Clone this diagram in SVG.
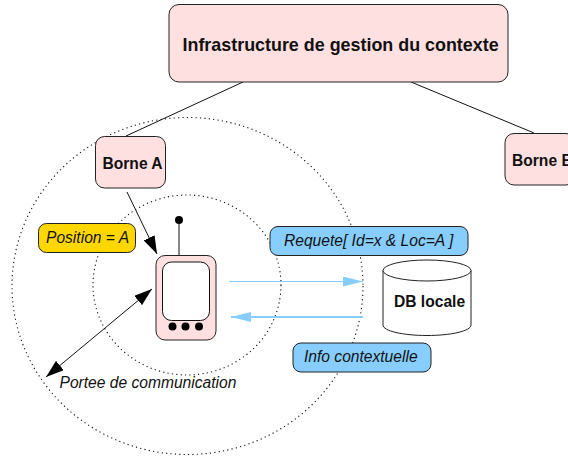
<svg xmlns="http://www.w3.org/2000/svg" width="568" height="456" viewBox="0 0 568 456">
<style>
.pink{fill:#ffe0e0;stroke:#222;stroke-width:1}
.blue{fill:#87ceff;stroke:#222;stroke-width:1}
.yellow{fill:#ffd700;stroke:#222;stroke-width:1}
.range{fill:none;stroke:#111;stroke-width:1.1;stroke-dasharray:1.2 3.2}
.line{fill:none;stroke:#111;stroke-width:1}
text{font-family:"Liberation Sans",Arial,sans-serif;font-size:15.6px;fill:#111}
.b{font-weight:bold}
.i{font-style:italic}
.big{font-size:17.9px}
</style>
<defs>
<marker id="ak" markerUnits="userSpaceOnUse" markerWidth="18" markerHeight="12" refX="18" refY="6" orient="auto-start-reverse" viewBox="0 0 18 12"><path d="M0 0L18 6L0 12Z" fill="#000"/></marker>
<marker id="ab" markerUnits="userSpaceOnUse" markerWidth="20" markerHeight="10" refX="20" refY="5" orient="auto" viewBox="0 0 20 10"><path d="M0 0L20 5L0 10Z" fill="#87ceff"/></marker>
</defs>
<g id="ranges">
<ellipse class="range" cx="187.500" cy="286" rx="175.500" ry="168.500"/>
<ellipse class="range" cx="187" cy="285" rx="94" ry="90"/>
</g>
<g id="connectors">
<path class="line" d="M243 82L126 136"/>
<path class="line" d="M411 82L534 133"/>
<path class="line" d="M127 192L157 254" marker-end="url(#ak)"/>
<path class="line" d="M152 289L46 377" marker-start="url(#ak)" marker-end="url(#ak)"/>
<path d="M229 281.500H363" fill="none" stroke="#87ceff" stroke-width="1" marker-end="url(#ab)"/>
<path d="M363 317H231" fill="none" stroke="#87ceff" stroke-width="1.800" marker-end="url(#ab)"/>
</g>
<g id="infrastructure"><rect class="pink" x="169" y="4.500" width="339" height="77.500" rx="10"/><text class="b big" x="182.500" y="50.500">Infrastructure de gestion du contexte</text></g>
<g id="borne-a"><rect class="pink" x="95.500" y="136.500" width="70" height="51.500" rx="9"/><text class="b" x="102.500" y="169">Borne A</text></g>
<g id="borne-b"><rect class="pink" x="505" y="133.500" width="70" height="51.500" rx="9"/><text class="b" x="512" y="166">Borne B</text></g>
<g id="position"><rect class="yellow" x="38.500" y="223.500" width="97" height="29" rx="8"/><text class="i" x="46" y="243">Position = A</text></g>
<g id="requete"><rect class="blue" x="270" y="226.500" width="198" height="29" rx="8"/><text class="i" x="284" y="246">Requete[ Id=x &amp; Loc=A ]</text></g>
<g id="info"><rect class="blue" x="293" y="343" width="138" height="29" rx="8"/><text class="i" x="304" y="362">Info contextuelle</text></g>
<g id="db">
<path d="M383 270.500V325C383 331 403 335.500 427 335.500S471 331 471 325V270.500" fill="#fff" stroke="#222" stroke-width="1"/>
<ellipse cx="427" cy="270.500" rx="44" ry="10.500" fill="#fff" stroke="#222" stroke-width="1"/>
<text class="b" x="394" y="307">DB locale</text>
</g>
<g id="terminal">
<path class="line" d="M179 255V220"/><circle cx="179" cy="220" r="4" fill="#000"/>
<rect class="pink" x="156" y="255.500" width="60" height="84.500" rx="9"/>
<rect x="162.500" y="262" width="47" height="58.500" rx="9" fill="#fff" stroke="#111" stroke-width="1"/>
<circle cx="172.500" cy="326.500" r="4" fill="#000"/><circle cx="185.500" cy="326.500" r="4" fill="#000"/><circle cx="199" cy="326.500" r="4" fill="#000"/>
</g>
<g id="portee"><text class="i" x="59.500" y="388">Portee de communication</text></g>
</svg>
